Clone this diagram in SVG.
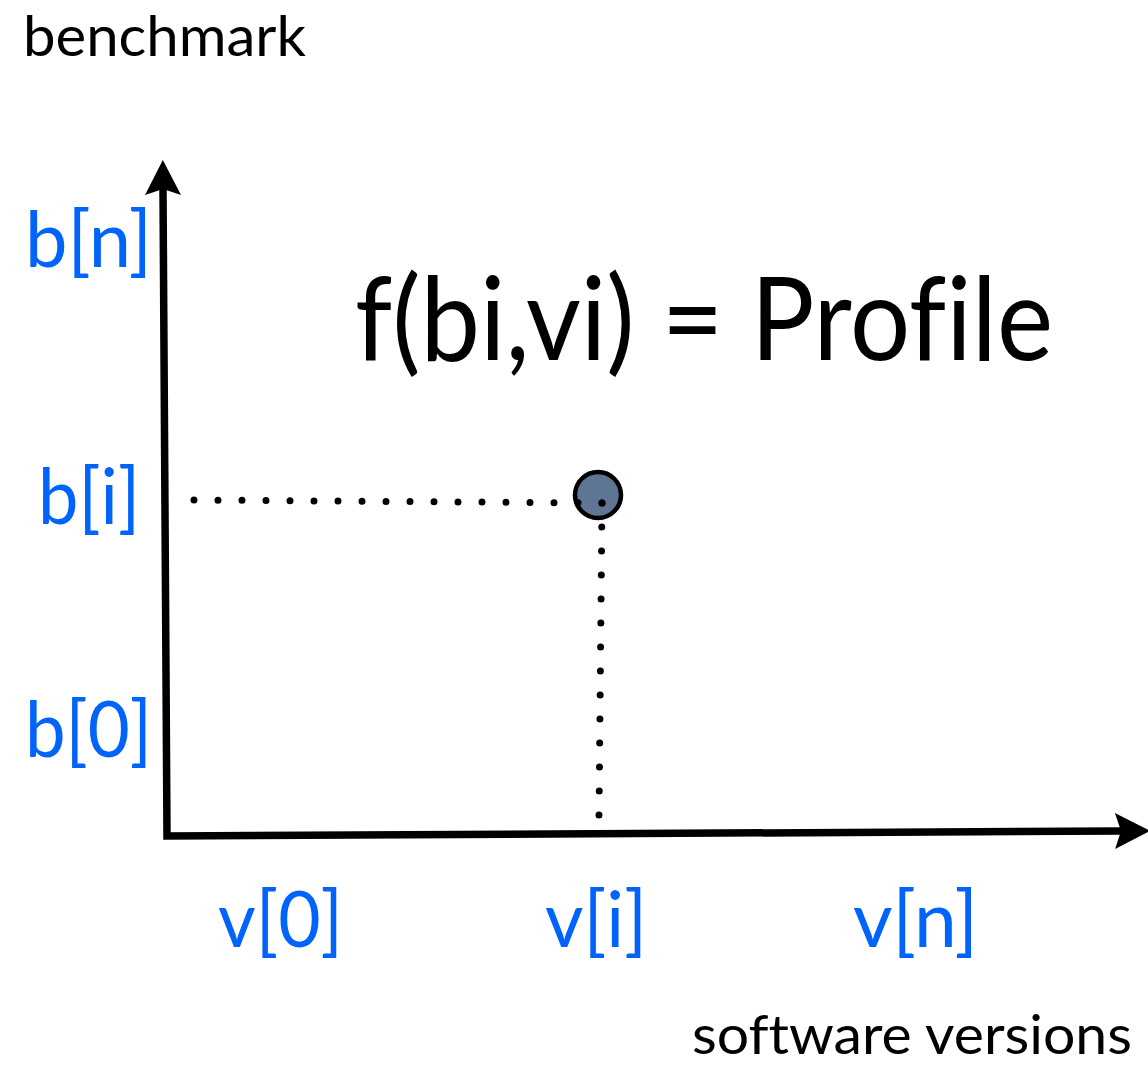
<svg xmlns="http://www.w3.org/2000/svg" width="1148" height="1065" viewBox="0 0 1148 1065">
  <style>
    text { font-variant-ligatures: none; }
    .lbl { font-family: Lato, "Open Sans", "Liberation Sans", sans-serif; fill: #000; }
    .tick { font-family: Lato, "Open Sans", "Liberation Sans", sans-serif; fill: #0064fa; font-size: 78px; }
    .axis { fill: none; stroke: #000; stroke-width: 7.5; stroke-linejoin: miter; }
    .dots { fill: none; stroke: #000; stroke-width: 7; stroke-linecap: round; stroke-dasharray: 0 24; }
  </style>
  <defs>
    <marker id="head" markerUnits="userSpaceOnUse" viewBox="-8 -20 40 40" refX="0" refY="0" markerWidth="40" markerHeight="40" orient="auto-start-reverse">
      <path d="M29,0 L-6,-18 L0,0 L-6,18 Z" fill="#000"/>
    </marker>
  </defs>

  <rect width="1148" height="1065" fill="#fff"/>

  <!-- axes -->
  <g id="connectors">
    <path class="axis" d="M163,189 L167,836 L1121,831" marker-start="url(#head)" marker-end="url(#head)"/>
  </g>

  <!-- data point -->
  <g id="point">
    <circle cx="598" cy="495" r="23" fill="#5f7594" stroke="#000" stroke-width="4.5"/>
  </g>

  <!-- guide dots -->
  <g id="guides">
    <path class="dots" d="M194,500 L602,503"/>
    <path class="dots" d="M602,503 L599,815"/>
  </g>

  <!-- axis titles -->
  <g id="y-title"><text class="lbl" x="23" y="56" font-size="56" textLength="283" lengthAdjust="spacingAndGlyphs">benchmark</text></g>
  <g id="x-title"><text class="lbl" x="692" y="1054" font-size="55" textLength="440" lengthAdjust="spacingAndGlyphs">software versions</text></g>

  <!-- formula -->
  <g id="formula"><text class="lbl" x="355" y="360" font-size="116" textLength="698" lengthAdjust="spacingAndGlyphs">f(bi,vi) = Profile</text></g>

  <!-- y ticks -->
  <g id="b-n"><text class="tick" x="25" y="267" textLength="127" lengthAdjust="spacingAndGlyphs">b[n]</text></g>
  <g id="b-i"><text class="tick" x="38" y="524" textLength="102" lengthAdjust="spacingAndGlyphs">b[i]</text></g>
  <g id="b-0"><text class="tick" x="25" y="757" textLength="127" lengthAdjust="spacingAndGlyphs">b[0]</text></g>

  <!-- x ticks -->
  <g id="v-0"><text class="tick" x="218" y="947" textLength="125" lengthAdjust="spacingAndGlyphs">v[0]</text></g>
  <g id="v-i"><text class="tick" x="545" y="947" textLength="102" lengthAdjust="spacingAndGlyphs">v[i]</text></g>
  <g id="v-n"><text class="tick" x="853" y="947" textLength="125" lengthAdjust="spacingAndGlyphs">v[n]</text></g>
</svg>
